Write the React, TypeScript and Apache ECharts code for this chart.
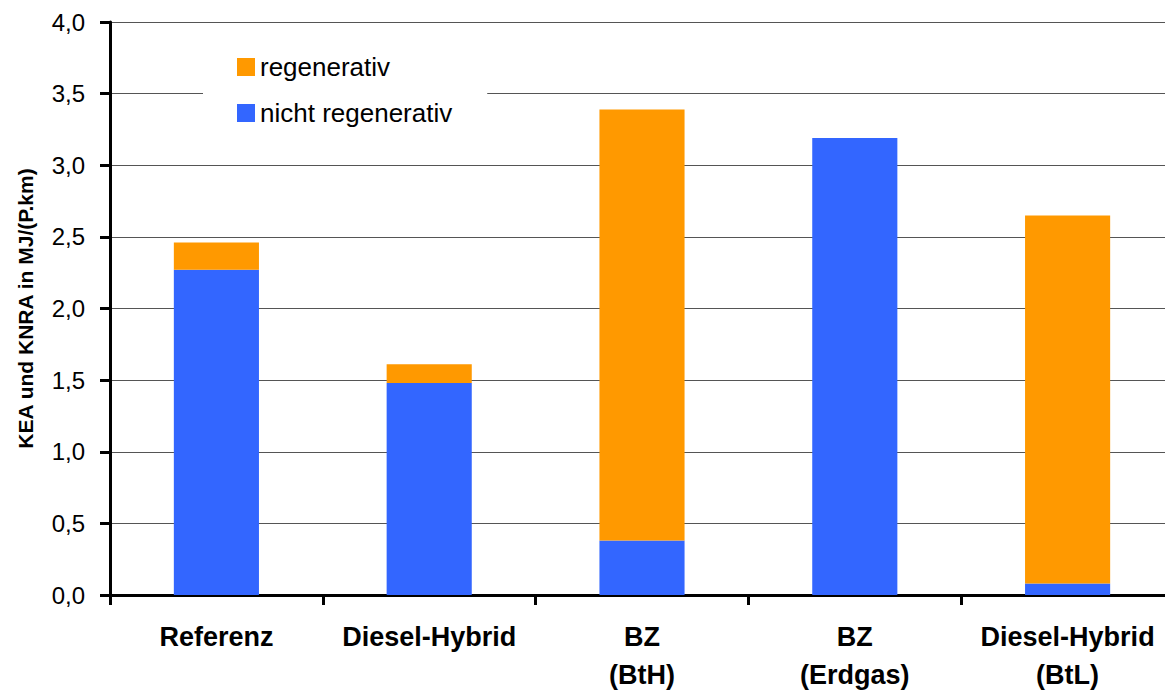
import React, { useEffect, useRef } from "react";
import * as echarts from "echarts";

const categories = ["Referenz", "Diesel-Hybrid", "BZ\n(BtH)", "BZ\n(Erdgas)", "Diesel-Hybrid\n(BtL)"];
const nichtRegenerativ = [2.27, 1.48, 0.38, 3.19, 0.08];
const regenerativ = [0.19, 0.13, 3.01, 0, 2.57];
const seriesNames = ["regenerativ", "nicht regenerativ"];
const yTicks = { min: 0, max: 4, interval: 0.5 };
const yAxisTitle = "KEA und KNRA in MJ/(P.km)";

const FONT = "'Liberation Sans', Arial, Helvetica, sans-serif";

export default function App() {
  const ref = useRef<HTMLDivElement>(null);
  useEffect(() => {
    if (!ref.current) return;
    const chart = echarts.init(ref.current, undefined, { renderer: "svg" });
    chart.setOption({
      animation: false,
      backgroundColor: "#ffffff",
      textStyle: { fontFamily: FONT },
      grid: { left: 110, right: 0, top: 22, bottom: 95, containLabel: false, outerBoundsMode: "none" },
      legend: {
        data: seriesNames,
        orient: "vertical",
        left: 203,
        top: 42,
        padding: [12, 35, 12, 34],
        itemWidth: 18,
        itemHeight: 18,
        itemGap: 20,
        backgroundColor: "#ffffff",
        icon: "rect",
        textStyle: { fontSize: 26, color: "#000", fontFamily: FONT },
        selectedMode: false,
      },
      xAxis: {
        type: "category",
        data: categories,
        boundaryGap: true,
        axisLine: { lineStyle: { color: "#000", width: 3 } },
        axisTick: { show: true, length: 10, lineStyle: { color: "#000", width: 3 }, interval: 0 },
        axisLabel: {
          interval: 0,
          margin: 23,
          fontSize: 27,
          fontWeight: "bold",
          color: "#000",
          lineHeight: 38,
          fontFamily: FONT,
        },
      },
      yAxis: {
        type: "value",
        min: yTicks.min,
        max: yTicks.max,
        interval: yTicks.interval,
        name: yAxisTitle,
        nameLocation: "middle",
        nameGap: 74,
        nameRotate: 90,
        nameTextStyle: { fontSize: 21, fontWeight: "bold", color: "#000", fontFamily: FONT },
        axisLine: { show: true, lineStyle: { color: "#000", width: 3 } },
        axisTick: { show: true, length: 10, lineStyle: { color: "#000", width: 3 } },
        axisLabel: {
          margin: 25,
          fontSize: 24,
          color: "#000",
          fontFamily: FONT,
          formatter: (v: number) => v.toFixed(1).replace(".", ","),
        },
        splitLine: { show: true, lineStyle: { color: "#555", width: 1 } },
      },
      series: [
        {
          name: "nicht regenerativ",
          type: "bar",
          stack: "total",
          barWidth: "40%",
          data: nichtRegenerativ,
          itemStyle: { color: "#3366FF" },
        },
        {
          name: "regenerativ",
          type: "bar",
          stack: "total",
          barWidth: "40%",
          data: regenerativ,
          itemStyle: { color: "#FF9900" },
        },
      ],
    });
    return () => chart.dispose();
  }, []);
  return (
    <div style={{ position: "absolute", left: 0, top: 0, width: 1165, height: 690, overflow: "hidden", background: "#fff" }}>
      <div ref={ref} style={{ width: 1174, height: 690 }} />
    </div>
  );
}
